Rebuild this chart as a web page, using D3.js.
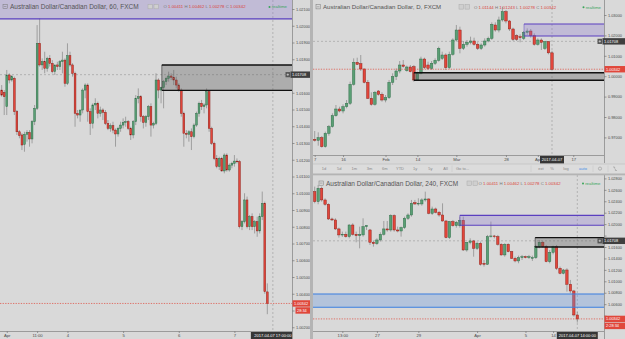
<!DOCTYPE html>
<html>
<head>
<meta charset="utf-8">
<script src="https://d3js.org/d3.v7.min.js"></script>
<title>AUD/CAD multi timeframe</title>
<style>
  body { margin: 0; background: #d9d9d9; }
</style>
</head>
<body>
<div id="container"></div>
<script>
// ---- data ----------------------------------------------------------
// candles are [open, high, low, close]
var h1Candles = [
  [1.01616,1.01646,1.01576,1.01586],[1.01602,1.01616,1.01467,1.01576],[1.01517,1.01736,1.01467,1.01706],
  [1.01706,1.01716,1.01656,1.01676],[1.01676,1.01706,1.01666,1.01696],[1.01686,1.01696,1.01467,1.01487],
  [1.01487,1.01497,1.01348,1.01367],[1.01367,1.01377,1.01328,1.01344],[1.01348,1.01358,1.01258,1.01288],
  [1.01292,1.01367,1.01248,1.01352],[1.01352,1.01377,1.01308,1.01362],[1.01362,1.01377,1.01278,1.01324],
  [1.01324,1.01437,1.01298,1.01427],[1.01427,1.01527,1.01407,1.01507],[1.01507,1.02004,1.01497,1.01895],
  [1.01895,1.02044,1.01756,1.01766],[1.01766,1.01805,1.01736,1.01785],[1.01785,1.01845,1.01716,1.01746],
  [1.01746,1.01815,1.01726,1.01805],[1.01805,1.01825,1.01756,1.01775],[1.01775,1.01795,1.01716,1.01726],
  [1.01726,1.01746,1.01706,1.01766],[1.01766,1.01785,1.01736,1.01756],[1.01756,1.01795,1.01736,1.01785],
  [1.01785,1.01845,1.01716,1.01795],[1.01795,1.01805,1.01636,1.01656],[1.01656,1.01895,1.01646,1.01821],
  [1.01821,1.01845,1.01756,1.01766],[1.01766,1.01776,1.01696,1.01716],[1.01716,1.01726,1.01397,1.01477],
  [1.01477,1.01497,1.01447,1.01467],[1.01467,1.01497,1.01427,1.01497],[1.01497,1.01626,1.01477,1.01616],
  [1.01616,1.01656,1.01567,1.01646],[1.01646,1.01656,1.01427,1.01487],[1.01487,1.01507,1.01348,1.01417],
  [1.01417,1.01537,1.01387,1.01527],[1.01527,1.01567,1.01497,1.01537],[1.01537,1.01547,1.01447,1.01477],
  [1.01477,1.01517,1.01457,1.01497],[1.01497,1.01507,1.01437,1.01483],[1.01483,1.01497,1.01407,1.01417],
  [1.01417,1.01437,1.01377,1.01387],[1.01387,1.01417,1.01367,1.01403],[1.01403,1.01427,1.01358,1.01377],
  [1.01377,1.01387,1.01278,1.01354],[1.01354,1.01397,1.01338,1.01387],[1.01387,1.01427,1.01367,1.01407],
  [1.01407,1.01447,1.01387,1.01423],[1.01423,1.01457,1.01397,1.01427],[1.01427,1.01437,1.01377,1.01387],
  [1.01387,1.01397,1.01318,1.01348],[1.01348,1.01437,1.01328,1.01427],[1.01427,1.01586,1.01407,1.01566],
  [1.01566,1.01626,1.01537,1.01576],[1.01576,1.01586,1.01427,1.01457],[1.01457,1.01467,1.01387,1.01423],
  [1.01423,1.01467,1.01397,1.01457],[1.01457,1.01527,1.01437,1.01517],[1.01517,1.01537,1.01338,1.01407],
  [1.01407,1.01427,1.01387,1.01417],[1.01417,1.01716,1.01407,1.01676],[1.01676,1.01686,1.01567,1.01616],
  [1.01616,1.01636,1.01537,1.01630],[1.01630,1.01676,1.01507,1.01666],[1.01666,1.01696,1.01646,1.01686],
  [1.01686,1.01726,1.01666,1.01700],[1.01700,1.01716,1.01676,1.01692],[1.01692,1.01736,1.01646,1.01676],
  [1.01676,1.01696,1.01626,1.01646],[1.01646,1.01656,1.01606,1.01616],[1.01616,1.01626,1.01457,1.01477],
  [1.01477,1.01487,1.01278,1.01358],[1.01358,1.01377,1.01328,1.01352],[1.01352,1.01377,1.01308,1.01367],
  [1.01367,1.01387,1.01258,1.01338],[1.01338,1.01417,1.01328,1.01407],[1.01407,1.01487,1.01397,1.01477],
  [1.01477,1.01547,1.01457,1.01537],[1.01537,1.01557,1.01497,1.01517],[1.01517,1.01537,1.01477,1.01527],
  [1.01527,1.01626,1.01507,1.01606],[1.01606,1.01616,1.01367,1.01387],[1.01387,1.01397,1.01288,1.01298],
  [1.01298,1.01308,1.01198,1.01208],[1.01208,1.01228,1.01149,1.01159],[1.01159,1.01218,1.01139,1.01208],
  [1.01208,1.01218,1.01129,1.01133],[1.01133,1.01238,1.01119,1.01228],[1.01228,1.01238,1.01129,1.01139],
  [1.01139,1.01178,1.01129,1.01168],[1.01168,1.01188,1.01149,1.01178],[1.01178,1.01228,1.01159,1.01192],
  [1.01192,1.01208,1.01178,1.01188],[1.01188,1.01198,1.00790,1.00800],[1.00800,1.00840,1.00780,1.00830],
  [1.00830,1.01000,1.00820,1.00960],[1.00960,1.00980,1.00790,1.00800],[1.00800,1.00870,1.00780,1.00860],
  [1.00860,1.00880,1.00780,1.00800],[1.00800,1.00840,1.00760,1.00830],[1.00830,1.00860,1.00740,1.00775],
  [1.00775,1.00880,1.00760,1.00860],[1.00860,1.01010,1.00840,1.00940],[1.00940,1.00950,1.00400,1.00412],
  [1.00411,1.00462,1.00278,1.00342]
];

var dCandles = [
  [0.96905,0.97313,0.96791,0.96856],[0.96856,0.97248,0.96594,0.96987],[0.96987,0.97069,0.96497,0.96545],
  [0.96545,0.97281,0.96497,0.97199],[0.97199,0.97608,0.97085,0.97526],[0.97526,0.98180,0.97477,0.98065],
  [0.98065,0.98588,0.98016,0.98392],[0.98392,0.98506,0.98229,0.98294],[0.98294,0.98621,0.98180,0.98506],
  [0.98506,0.98833,0.98425,0.98670],[0.98670,0.99732,0.98588,0.99601],[0.99601,1.00876,0.99536,1.00679],
  [1.00679,1.00908,1.00549,1.00581],[1.00614,1.01039,1.00255,1.00353],[1.00353,1.00385,0.99650,0.99699],
  [0.99699,0.99814,0.98882,0.98915],[0.98915,0.99209,0.98555,0.98621],[0.98621,0.99274,0.98555,0.99209],
  [0.99274,0.99323,0.99046,0.99111],[0.99111,0.99209,0.98751,0.98833],[0.98833,0.99078,0.98719,0.98947],
  [0.98947,0.99814,0.98882,0.99699],[0.99699,1.00141,0.99568,0.99977],[0.99977,1.00385,0.99814,1.00255],
  [1.00255,1.00745,1.00141,1.00549],[1.00549,1.00794,1.00418,1.00483],[1.00271,1.00516,1.00222,1.00451],
  [1.00451,1.00549,1.00189,1.00222],[1.00467,1.00549,0.99732,0.99814],[0.99814,1.00222,0.99765,1.00141],
  [1.00141,1.00957,1.00092,1.00843],[1.00843,1.00908,1.00353,1.00418],[1.00549,1.00712,1.00304,1.00385],
  [1.00385,1.00745,1.00304,1.00631],[1.00631,1.00876,1.00549,1.00778],[1.00778,1.01448,1.00712,1.01366],
  [1.00876,1.01202,1.00794,1.01039],[1.01039,1.01121,1.00304,1.00418],[1.00418,1.01202,1.00353,1.01072],
  [1.01072,1.01856,1.01006,1.01774],[1.01774,1.02510,1.01693,1.02264],[1.02264,1.02428,1.01121,1.01366],
  [1.01366,1.01725,1.01284,1.01562],[1.01562,1.01774,1.01448,1.01660],[1.01660,1.01938,1.01562,1.01725],
  [1.01725,1.01889,1.01497,1.01562],[1.01562,1.01660,1.01284,1.01366],[1.01366,1.01611,1.01284,1.01529],
  [1.01529,1.01856,1.01448,1.01725],[1.01725,1.01938,1.01660,1.01856],[1.01856,1.02640,1.01774,1.02542],
  [1.02510,1.02640,1.02183,1.02264],[1.02264,1.02918,1.02150,1.02755],[1.02755,1.03408,1.02673,1.03163],
  [1.03163,1.03245,1.02591,1.02706],[1.02706,1.02755,1.02215,1.02314],[1.02314,1.02379,1.01725,1.01807],
  [1.01987,1.02052,1.01725,1.01807],[1.01938,1.02052,1.01660,1.01889],[1.01856,1.02215,1.01774,1.02150],
  [1.02150,1.02346,1.02019,1.02215],[1.02215,1.02314,1.01889,1.01987],[1.01987,1.02101,1.01497,1.01562],
  [1.01562,1.01856,1.01497,1.01774],[1.01774,1.01856,1.01284,1.01660],[1.01366,1.01725,1.01284,1.01693],
  [1.01693,1.01725,1.01072,1.01144],[1.01144,1.01243,1.00278,1.00342]
];

var h4Candles = [
  [1.02568,1.02656,1.02364,1.02394],[1.02394,1.02685,1.02347,1.02627],[1.02627,1.02656,1.02394,1.02423],
  [1.02423,1.02452,1.02323,1.02347],[1.02347,1.02364,1.02073,1.02090],[1.02090,1.02114,1.02056,1.02073],
  [1.02073,1.02102,1.01898,1.01916],[1.01916,1.01939,1.01764,1.01811],[1.01811,1.01869,1.01776,1.01822],
  [1.01822,1.01869,1.01764,1.01781],[1.01781,1.01997,1.01752,1.01985],[1.01985,1.02015,1.01799,1.01822],
  [1.01822,1.01869,1.01682,1.01799],[1.01799,1.01956,1.01577,1.01822],[1.01811,1.02102,1.01781,1.01956],
  [1.01956,1.01985,1.01898,1.01974],[1.01898,1.01916,1.01636,1.01682],[1.01682,1.01706,1.01606,1.01659],
  [1.01659,1.01752,1.01636,1.01723],[1.01723,1.01857,1.01694,1.01822],[1.01822,1.02055,1.01799,1.01916],
  [1.01916,1.02055,1.01869,1.01898],[1.01898,1.02172,1.01869,1.02149],[1.02149,1.02172,1.01869,1.01898],
  [1.01898,1.01956,1.01857,1.01880],[1.01880,1.01956,1.01781,1.01939],[1.01939,1.02131,1.01916,1.02102],
  [1.02102,1.02189,1.02073,1.02160],[1.02160,1.02423,1.02131,1.02364],[1.02376,1.02423,1.02335,1.02353],
  [1.02353,1.02452,1.02323,1.02364],[1.02353,1.02452,1.02323,1.02423],[1.02423,1.02568,1.02394,1.02440],
  [1.02440,1.02452,1.02172,1.02189],[1.02189,1.02306,1.02160,1.02265],[1.02265,1.02289,1.02189,1.02207],
  [1.02207,1.02230,1.02131,1.02160],[1.02160,1.02364,1.02044,1.02055],[1.02055,1.02073,1.01752,1.01764],
  [1.01764,1.02055,1.01741,1.02044],[1.02044,1.02073,1.01956,1.01974],[1.01974,1.02055,1.01939,1.02032],
  [1.01974,1.02131,1.01939,1.02067],[1.02067,1.02131,1.01531,1.01548],[1.01548,1.01682,1.01519,1.01682],
  [1.01682,1.01752,1.01647,1.01706],[1.01706,1.01723,1.01431,1.01577],[1.01577,1.01694,1.01548,1.01665],
  [1.01665,1.01694,1.01274,1.01297],[1.01315,1.01373,1.01257,1.01297],[1.01297,1.01811,1.01286,1.01781],
  [1.01781,1.02044,1.01764,1.01793],[1.01793,1.01811,1.01752,1.01781],[1.01781,1.01811,1.01624,1.01647],
  [1.01647,1.01665,1.01449,1.01461],[1.01461,1.01665,1.01431,1.01647],[1.01647,1.01665,1.01507,1.01519],
  [1.01519,1.01531,1.01391,1.01402],[1.01402,1.01431,1.01332,1.01356],[1.01356,1.01449,1.01315,1.01414],
  [1.01414,1.01461,1.01373,1.01431],[1.01431,1.01449,1.01402,1.01414],[1.01414,1.01461,1.01391,1.01431],
  [1.01402,1.01449,1.01356,1.01414],[1.01414,1.01636,1.01391,1.01606],[1.01606,1.01723,1.01577,1.01682],
  [1.01682,1.01706,1.01589,1.01606],[1.01606,1.01636,1.01332,1.01344],[1.01344,1.01548,1.01315,1.01507],
  [1.01507,1.01624,1.01472,1.01606],[1.01606,1.01636,1.01198,1.01228],[1.01228,1.01257,1.01123,1.01140],
  [1.01140,1.01216,1.01123,1.01198],[1.01198,1.01228,1.00820,1.00948],[1.00948,1.01024,1.00791,1.00831],
  [1.00831,1.00849,1.00382,1.00411],[1.00411,1.00462,1.00278,1.00342]
];

// price ticks on the right axes
var h1PriceTicks = [1.021,1.020,1.019,1.018,1.017,1.016,1.015,1.014,1.013,1.012,1.011,
                    1.010,1.009,1.008,1.007,1.006,1.005,1.004,1.003,1.002];
var dPriceTicks  = [1.03,1.02,1.01,1.00,0.99,0.98,0.97];
var h4PriceTicks = [1.028,1.026,1.024,1.022,1.020,1.018,1.016,1.014,1.012,1.010,1.008,1.006,1.004];

// time axis labels and the candle index they sit on
var h1TimeLabels = ["Apr","11:00","4","5","6","7"];
var h1TimeIdx    = [2,14,26,48,70,92];
var dTimeLabels  = ["7","16","Feb","14","Mar","28","Apr","17"];
var dTimeIdx     = [0,8,20,29,40,54,63,73];
var h4TimeLabels = ["13:00","27","29","Apr","5","14"];
var h4TimeIdx    = [8,18,30,47,61,69];

// drawn price zones: [low, high, start candle index (null = full width), kind]
var h1Zones = [[1.02041,1.0225,null,"purple"],[1.01614,1.01766,63.3,"gray"]];
var dZones  = [[1.01971,1.02559,59.1,"purple"],[0.99799,1.00172,28,"gray"]];
var h4Zones = [[1.01980,1.02154,42,"purple"],[1.01601,1.01764,63.8,"gray"],[1.00545,1.00779,null,"blue"]];

var crossPrice = 1.01708;

// ---- drawing -------------------------------------------------------
var FONT = '"Liberation Sans", Arial, sans-serif';
var upFill = "#5a9f74", upLine = "#2b6a45", dnFill = "#e2463b", dnLine = "#8a1c15", wickCol = "#777";
var zoneFill = {purple:"rgba(140,120,210,0.3)", gray:"rgba(95,95,95,0.36)", blue:"rgba(100,150,225,0.32)"};
var zoneLine = {purple:"#5a3fc0", gray:"#111", blue:"#3a7fe0"};
var zoneW = {purple:1.1, gray:1.4, blue:1.1};
var fmt5 = d3.format(".5f");

var svg = d3.select("#container").append("svg")
    .attr("width", 625).attr("height", 339)
    .style("display", "block")
    .style("font-family", FONT);
var defs = svg.append("defs");

svg.append("rect").attr("width", 625).attr("height", 339).attr("fill", "#d9d9d9");

function drawPanel(p) {
  var n = p.candles.length;
  var x = d3.scaleLinear().domain([0, n - 1]).range(p.xRange);
  var y = d3.scaleLinear().domain(p.yDomain).range(p.yRange);
  var g = svg.append("g");
  var last = p.candles[n - 1];

  defs.append("clipPath").attr("id", "clip-" + p.id).append("rect")
      .attr("x", p.left).attr("y", p.top).attr("width", p.right - p.left).attr("height", p.bottom - p.top);
  defs.append("clipPath").attr("id", "clipt-" + p.id).append("rect")
      .attr("x", p.left).attr("y", p.bottom).attr("width", p.right - p.left).attr("height", 9);

  var plot = g.append("g").attr("clip-path", "url(#clip-" + p.id + ")");

  // crosshair
  plot.append("line").attr("x1", p.left).attr("x2", p.right)
      .attr("y1", y(crossPrice)).attr("y2", y(crossPrice))
      .attr("stroke", "#999").attr("stroke-width", 0.6).attr("stroke-dasharray", "2,2");
  plot.append("line").attr("x1", x(p.crossIdx)).attr("x2", x(p.crossIdx))
      .attr("y1", p.top).attr("y2", p.bottom)
      .attr("stroke", "#999").attr("stroke-width", 0.6).attr("stroke-dasharray", "2,2");

  // candles
  var bw = p.bodyW;
  var candle = plot.selectAll(".candle").data(p.candles).enter()
      .append("g").attr("class", "candle");
  candle.append("line")
      .attr("x1", function(d, i) { return x(i); })
      .attr("x2", function(d, i) { return x(i); })
      .attr("y1", function(d) { return y(d[1]); })
      .attr("y2", function(d) { return y(d[2]); })
      .attr("stroke", wickCol).attr("stroke-width", 0.6);
  candle.append("rect")
      .attr("x", function(d, i) { return x(i) - bw / 2; })
      .attr("width", bw)
      .attr("y", function(d) { return y(Math.max(d[0], d[3])); })
      .attr("height", function(d) { return Math.max(0.7, Math.abs(y(d[0]) - y(d[3]))); })
      .attr("fill", function(d) { return d[3] >= d[0] ? upFill : dnFill; })
      .attr("stroke", function(d) { return d[3] >= d[0] ? upLine : dnLine; })
      .attr("stroke-width", 0.45);

  // zones drawn over the candles
  p.zones.forEach(function(z) {
    var zx = z[2] == null ? p.left : x(z[2]);
    var yt = y(z[1]), yb = y(z[0]);
    plot.append("rect").attr("x", zx).attr("y", yt).attr("width", p.right - zx).attr("height", yb - yt)
        .attr("fill", zoneFill[z[3]]);
    [yt, yb].forEach(function(v) {
      plot.append("line").attr("x1", zx).attr("x2", p.right).attr("y1", v).attr("y2", v)
          .attr("stroke", zoneLine[z[3]]).attr("stroke-width", zoneW[z[3]]);
    });
    if (z[2] != null) {
      plot.append("line").attr("x1", zx).attr("x2", zx).attr("y1", yt).attr("y2", yb)
          .attr("stroke", zoneLine[z[3]]).attr("stroke-width", 0.5);
    }
  });

  // last price line
  plot.append("line").attr("x1", p.left).attr("x2", p.right)
      .attr("y1", y(last[3])).attr("y2", y(last[3]))
      .attr("stroke", "#e0473b").attr("stroke-width", 0.7).attr("stroke-dasharray", "1.3,1.3");

  // axis frame lines
  g.append("line").attr("x1", p.right + 0.5).attr("x2", p.right + 0.5).attr("y1", p.top).attr("y2", p.bottom + 8)
      .attr("stroke", "#8c8c8c").attr("stroke-width", 0.8);
  g.append("line").attr("x1", p.left).attr("x2", p.right).attr("y1", p.bottom + 0.5).attr("y2", p.bottom + 0.5)
      .attr("stroke", "#8c8c8c").attr("stroke-width", 0.8);

  // price axis; labels hidden where a price tag sits over them
  var tagYs = [y(crossPrice), y(last[3])];
  if (p.timer) tagYs.push(y(last[3]) + 7);
  var ay = g.append("g").attr("transform", "translate(" + (p.right + 0.5) + ",0)")
      .call(d3.axisRight(y).tickValues(p.priceTicks).tickFormat(fmt5).tickSize(2).tickPadding(1.4));
  ay.select(".domain").remove();
  ay.attr("font-family", FONT).attr("font-size", 3.9).attr("color", "#4a4a4a");
  ay.selectAll("line").attr("stroke-width", 0.5);
  ay.selectAll(".tick").filter(function(d) {
    return tagYs.some(function(t) { return Math.abs(y(d) - t) < 5.6; });
  }).select("text").remove();

  // time axis
  var ax = g.append("g").attr("transform", "translate(0," + (p.bottom + 0.5) + ")")
      .call(d3.axisBottom(x).tickValues(p.timeIdx)
            .tickFormat(function(d, i) { return p.timeLabels[i]; })
            .tickSize(1.5).tickPadding(1));
  ax.select(".domain").remove();
  ax.attr("font-family", FONT).attr("font-size", 4.2).attr("color", "#4a4a4a");
  ax.selectAll("line").attr("stroke-width", 0.5);

  // date box at the crosshair
  var dw = p.dateW, cx = x(p.crossIdx);
  var dg = g.append("g").attr("clip-path", "url(#clipt-" + p.id + ")");
  dg.append("rect").attr("x", cx - dw / 2).attr("y", p.bottom + 1).attr("width", dw).attr("height", 7.5)
      .attr("fill", "#363636");
  dg.append("text").attr("x", cx).attr("y", p.bottom + 6.3).attr("text-anchor", "middle")
      .attr("font-size", 4).attr("fill", "#fff").text(p.dateText);

  // price tags
  var tagX = p.right + 0.5;
  function tag(yy, text, fill, x0) {
    var xs = x0 == null ? tagX : x0;
    g.append("rect").attr("x", xs).attr("y", yy - 3.2).attr("width", p.axisRight - xs).attr("height", 6.4)
        .attr("fill", fill);
    g.append("text").attr("x", xs + 1.5).attr("y", yy + 1.4).attr("font-size", 3.9)
        .attr("fill", "#fff").text(text);
  }
  // crosshair price with "+" button
  g.append("rect").attr("x", p.right - 6.5).attr("y", y(crossPrice) - 2.6).attr("width", 4.6).attr("height", 5.2)
      .attr("fill", "#555");
  g.append("path").attr("d", "M" + (p.right - 5.4) + "," + y(crossPrice) + "h2.4M" + (p.right - 4.2) + "," + (y(crossPrice) - 1.2) + "v2.4")
      .attr("stroke", "#fff").attr("stroke-width", 0.5);
  tag(y(crossPrice), fmt5(crossPrice), "#3f3f3f", p.right - 1.5);
  tag(y(last[3]), fmt5(last[3]), "#e0473b");
  if (p.timer) tag(y(last[3]) + 7, p.timer, "#e0473b", p.timerX);

  // header
  var ty = p.titleY;
  svg.append("rect").attr("x", p.titleX - 7).attr("y", ty - 4.6).attr("width", 4.2).attr("height", 4.2)
      .attr("fill", "none").attr("stroke", "#777").attr("stroke-width", 0.5);
  svg.append("line").attr("x1", p.titleX - 6.2).attr("x2", p.titleX - 3.6)
      .attr("y1", ty - 2.5).attr("y2", ty - 2.5).attr("stroke", "#777").attr("stroke-width", 0.5);
  svg.append("text").attr("x", p.titleX).attr("y", ty).attr("font-size", p.titleSize)
      .attr("fill", "#555").text(p.title);
  [0, 6].forEach(function(dx) {
    svg.append("rect").attr("x", p.iconsX + dx).attr("y", ty - 4.6).attr("width", 4.4).attr("height", 4.4)
        .attr("fill", "#cfcfcf").attr("stroke", "#aaa").attr("stroke-width", 0.5);
  });
  var ohlc = svg.append("text").attr("x", p.ohlcX).attr("y", ty - 0.6).attr("font-size", 4.3)
      .style("white-space", "pre");
  ["O", "H", "L", "C"].forEach(function(k, i) {
    ohlc.append("tspan").attr("fill", "#777").text((i ? " " : "") + k + " ");
    ohlc.append("tspan").attr("fill", "#d9443a").text(fmt5(last[i]));
  });
  svg.append("circle").attr("cx", p.realtimeX).attr("cy", ty - 2.1).attr("r", 1).attr("fill", "#3aa55c");
  svg.append("text").attr("x", p.realtimeX + 2.2).attr("y", ty - 0.6).attr("font-size", 4.3)
      .attr("fill", "#3aa55c").text("realtime");
}

drawPanel({
  id: "h1", candles: h1Candles, zones: h1Zones,
  left: 0, right: 292, top: 0, bottom: 331, axisRight: 310,
  xRange: [1.7, 267.3], yDomain: [1.021, 1.002], yRange: [9, 327.25],
  priceTicks: h1PriceTicks, timeIdx: h1TimeIdx, timeLabels: h1TimeLabels,
  bodyW: 1.8, crossIdx: 107.2, dateText: "2017-04-07 17:00:00", dateW: 44,
  timer: "28:34", timerX: 295.5,
  title: "Australian Dollar/Canadian Dollar, 60, FXCM", titleX: 10, titleY: 9, titleSize: 6.5,
  iconsX: 148, ohlcX: 163.5, realtimeX: 269.5
});

drawPanel({
  id: "d", candles: dCandles, zones: dZones,
  left: 313, right: 604, top: 0, bottom: 155, axisRight: 625,
  xRange: [314.7, 552], yDomain: [1.03, 0.97], yRange: [15, 137.4],
  priceTicks: dPriceTicks, timeIdx: dTimeIdx, timeLabels: dTimeLabels,
  bodyW: 2.5, crossIdx: 67, dateText: "2017-04-07", dateW: 24,
  title: "Australian Dollar/Canadian Dollar, D, FXCM", titleX: 323, titleY: 9.3, titleSize: 6.1,
  iconsX: 459, ohlcX: 474, realtimeX: 583.5
});

drawPanel({
  id: "h4", candles: h4Candles, zones: h4Zones,
  left: 313, right: 604, top: 175, bottom: 331, axisRight: 625,
  xRange: [314.7, 577.3], yDomain: [1.028, 1.004], yRange: [178.4, 315.6],
  priceTicks: h4PriceTicks, timeIdx: h4TimeIdx, timeLabels: h4TimeLabels,
  bodyW: 2.4, crossIdx: 76, dateText: "2017-04-07 14:00:00", dateW: 41,
  timer: "2:28:34", timerX: 604.5,
  title: "Australian Dollar/Canadian Dollar, 240, FXCM", titleX: 326, titleY: 185.6, titleSize: 6.5,
  iconsX: 467, ohlcX: 478.5, realtimeX: 583
});

// toolbar under the daily chart
var tb = svg.append("g").attr("font-size", 4).attr("fill", "#8a8a8a");
tb.append("rect").attr("x", 313).attr("y", 164).attr("width", 312).attr("height", 9.5).attr("fill", "#dcdcdc");
tb.append("line").attr("x1", 313).attr("x2", 625).attr("y1", 164).attr("y2", 164)
    .attr("stroke", "#bcbcbc").attr("stroke-width", 0.6);
var tbLeft = ["1d", "5d", "1m", "3m", "6m", "YTD", "1y", "5y", "All"];
tbLeft.forEach(function(t, i) {
  tb.append("text").attr("x", 324 + i * 15.2).attr("y", 170).attr("text-anchor", "middle").text(t);
});
tb.append("text").attr("x", 456).attr("y", 170).text("Go to...");
[["ext", 541], ["%", 552], ["log", 566]].forEach(function(t) {
  tb.append("text").attr("x", t[1]).attr("y", 170).attr("text-anchor", "middle").text(t[0]);
});
tb.append("text").attr("x", 583).attr("y", 170).attr("text-anchor", "middle").attr("fill", "#3c8ce7").text("auto");
[452, 531, 593, 608].forEach(function(sx) {
  tb.append("line").attr("x1", sx).attr("x2", sx).attr("y1", 165.5).attr("y2", 172)
      .attr("stroke", "#c4c4c4").attr("stroke-width", 0.5);
});
tb.append("circle").attr("cx", 600).attr("cy", 168.6).attr("r", 1.6).attr("fill", "none")
    .attr("stroke", "#8a8a8a").attr("stroke-width", 0.5);
tb.append("path").attr("d", "M613,167 l1.6,0 l0,1.6 M617,170.5 l-1.6,0 l0,-1.6")
    .attr("fill", "none").attr("stroke", "#8a8a8a").attr("stroke-width", 0.5);

// panel separators
svg.append("rect").attr("x", 310).attr("y", 0).attr("width", 3).attr("height", 339).attr("fill", "#b4b4b4");
svg.append("rect").attr("x", 313).attr("y", 173.5).attr("width", 312).attr("height", 1.8).attr("fill", "#b4b4b4");
</script>
</body>
</html>
